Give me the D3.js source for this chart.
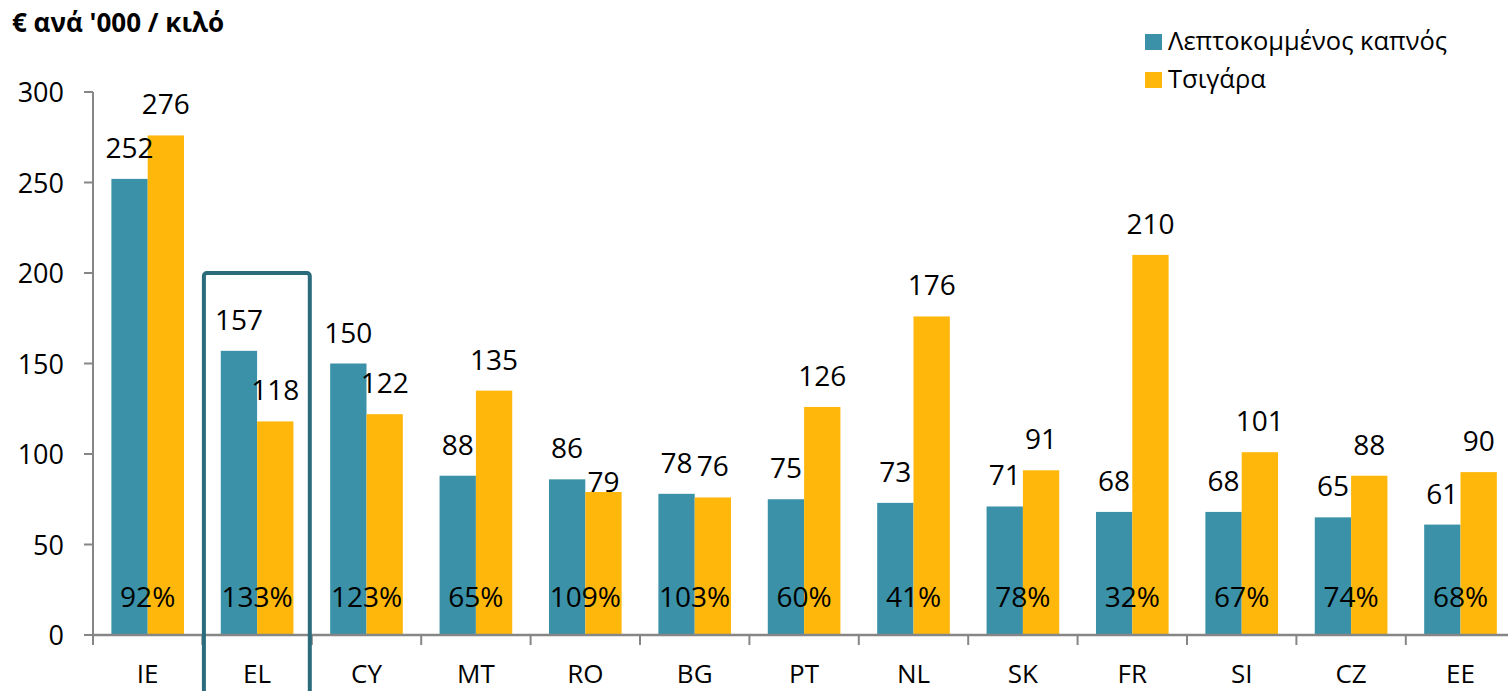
<!DOCTYPE html>
<html>
<head>
<meta charset="utf-8">
<script src="https://cdn.jsdelivr.net/npm/d3@7"></script>
<style>
  html, body { margin: 0; padding: 0; background: #fff; }
  svg { display: block; font-family: "Open Sans", "Noto Sans", sans-serif; }
</style>
</head>
<body>
<svg id="chart" width="1508" height="691"></svg>
<script>
// Country codes along the x axis
const categories = ["IE", "EL", "CY", "MT", "RO", "BG", "PT", "NL", "SK", "FR", "SI", "CZ", "EE"];
// Fine-cut tobacco, € per '000 / kg
const fineCut = [252, 157, 150, 88, 86, 78, 75, 73, 71, 68, 68, 65, 61];
// Cigarettes, € per '000 / kg
const cigarettes = [276, 118, 122, 135, 79, 76, 126, 176, 91, 210, 101, 88, 90];
// Fine-cut as a share of cigarettes
const ratioLabels = ["92%", "133%", "123%", "65%", "109%", "103%", "60%", "41%", "78%", "32%", "67%", "74%", "68%"];
const seriesNames = ["Λεπτοκομμένος καπνός", "Τσιγάρα"];
const yTicks = [0, 50, 100, 150, 200, 250, 300];
const highlighted = "EL";

const colors = ["#3a91a8", "#ffb70b"];
const axisColor = "#868686";

const svg = d3.select("#chart");

const y = d3.scaleLinear().domain([0, 300]).range([635, 92]);
const x = d3.scaleBand().domain(categories).range([93, 93 + 13 * 109.4]).padding(0);
const groupW = x.bandwidth() * 0.664;
const sub = d3.scaleBand().domain([0, 1]).range([0, groupW]).padding(0);

// Title
svg.append("text")
  .attr("x", 12).attr("y", 32)
  .attr("font-size", 26).attr("font-weight", "bold")
  .attr("fill", "#000")
  .text("€ ανά '000 / κιλό");

// Legend
const legend = svg.append("g");
seriesNames.forEach((name, i) => {
  const by = 50 + i * 38;
  legend.append("rect")
    .attr("x", 1145).attr("y", by - 16).attr("width", 17).attr("height", 16)
    .attr("fill", colors[i]);
  legend.append("text")
    .attr("x", 1168).attr("y", by)
    .attr("font-size", 25.5).attr("fill", "#000")
    .text(name);
});

// Bars
const series = [fineCut, cigarettes];
const plot = svg.append("g");
series.forEach((vals, s) => {
  plot.selectAll(null)
    .data(categories)
    .enter().append("rect")
    .attr("x", (c) => x(c) + (x.bandwidth() - groupW) / 2 + sub(s))
    .attr("y", (c, i) => y(vals[i]))
    .attr("width", sub.bandwidth())
    .attr("height", (c, i) => y(0) - y(vals[i]))
    .attr("fill", colors[s]);
});

// Y axis
const yAxis = svg.append("g");
yAxis.append("line")
  .attr("x1", 93).attr("x2", 93).attr("y1", y(300)).attr("y2", y(0) + 10)
  .attr("stroke", axisColor).attr("stroke-width", 2);
yTicks.forEach((t) => {
  yAxis.append("line")
    .attr("x1", 84).attr("x2", 93).attr("y1", y(t)).attr("y2", y(t))
    .attr("stroke", axisColor).attr("stroke-width", 2);
  yAxis.append("text")
    .attr("x", 64).attr("y", y(t) + 10)
    .attr("text-anchor", "end").attr("font-size", 27).attr("fill", "#000")
    .text(t);
});

// X axis
const xAxis = svg.append("g");
xAxis.append("line")
  .attr("x1", 93).attr("x2", 1508).attr("y1", y(0)).attr("y2", y(0))
  .attr("stroke", axisColor).attr("stroke-width", 2.5);
categories.forEach((c, i) => {
  if (i > 0) {
    xAxis.append("line")
      .attr("x1", x(c)).attr("x2", x(c)).attr("y1", y(0)).attr("y2", y(0) + 10)
      .attr("stroke", axisColor).attr("stroke-width", 2);
  }
  xAxis.append("text")
    .attr("x", x(c) + x.bandwidth() / 2).attr("y", 683)
    .attr("text-anchor", "middle").attr("font-size", 26).attr("fill", "#000")
    .text(c);
});

// Value labels above bars (RO cigarette label sits lower to avoid its neighbour)
const labelNudge = { "RO-1": 21 };
series.forEach((vals, s) => {
  categories.forEach((c, i) => {
    const nudge = labelNudge[c + "-" + s] || 0;
    svg.append("text")
      .attr("x", x(c) + (x.bandwidth() - groupW) / 2 + sub(s) + sub.bandwidth() / 2)
      .attr("y", y(vals[i]) - 21 + nudge)
      .attr("text-anchor", "middle").attr("font-size", 28).attr("fill", "#000")
      .text(vals[i]);
  });
});

// Ratio labels inside the bars
categories.forEach((c, i) => {
  svg.append("text")
    .attr("x", x(c) + x.bandwidth() / 2).attr("y", 607)
    .attr("text-anchor", "middle").attr("font-size", 28).attr("fill", "#000")
    .text(ratioLabels[i]);
});

// Frame around the highlighted country
svg.append("rect")
  .attr("x", x(highlighted) + 1.5)
  .attr("y", y(200))
  .attr("width", x.bandwidth() - 3.5)
  .attr("height", 500)
  .attr("rx", 3)
  .attr("fill", "none")
  .attr("stroke", "#2a6c7b")
  .attr("stroke-width", 4);
</script>
</body>
</html>
